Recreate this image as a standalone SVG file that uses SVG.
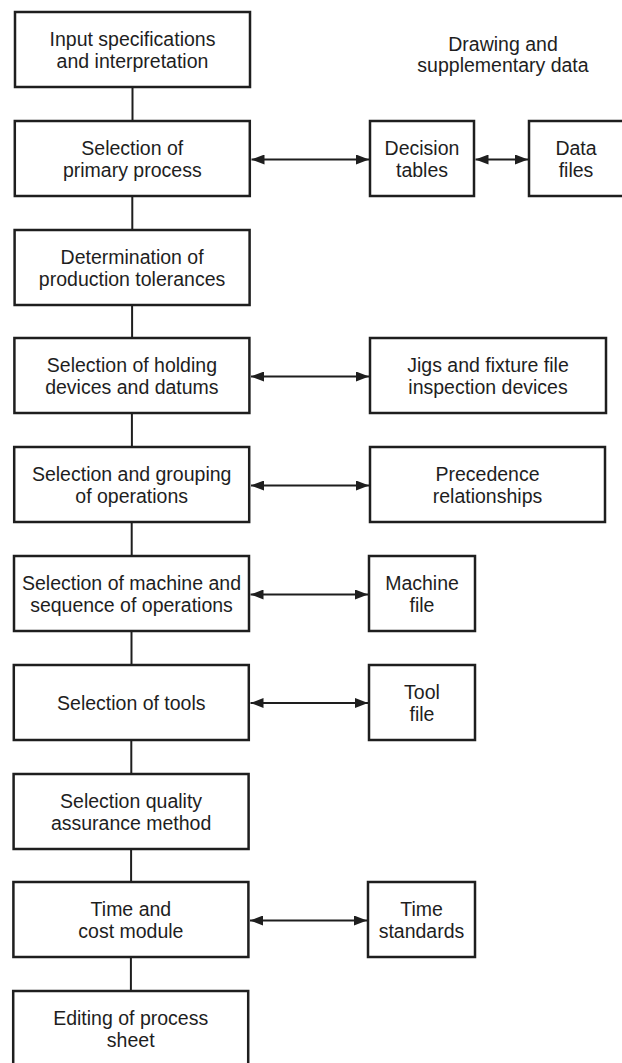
<svg xmlns="http://www.w3.org/2000/svg" width="622" height="1063" viewBox="0 0 622 1063">
<style>
.box{fill:#fff;stroke:#1e1e1e;stroke-width:2.5}
.t{font-family:"Liberation Sans",Arial,sans-serif;font-size:19.5px;fill:#1e1e1e;text-anchor:middle}
.ln{stroke:#1e1e1e;stroke-width:2;fill:none}
</style>
<defs>
<marker id="ah" viewBox="0 0 13 10" refX="13" refY="5" markerWidth="13" markerHeight="10" markerUnits="userSpaceOnUse" orient="auto-start-reverse">
<path d="M0,0 L13,5 L0,10 Z" fill="#1e1e1e"/>
</marker>
</defs>
<rect width="622" height="1063" fill="#fff"/>
<g id="connectors">
<line class="ln" x1="132.5" y1="87" x2="132.5" y2="121"/>
<line class="ln" x1="132.3" y1="196" x2="132.3" y2="230"/>
<line class="ln" x1="132.1" y1="305" x2="132.1" y2="338"/>
<line class="ln" x1="131.9" y1="413" x2="131.9" y2="447"/>
<line class="ln" x1="131.7" y1="522" x2="131.7" y2="556"/>
<line class="ln" x1="131.5" y1="631" x2="131.5" y2="665"/>
<line class="ln" x1="131.3" y1="740" x2="131.3" y2="774"/>
<line class="ln" x1="131.1" y1="849" x2="131.1" y2="882"/>
<line class="ln" x1="130.9" y1="957" x2="130.9" y2="991"/>
<line class="ln" x1="251.5" y1="159.5" x2="369" y2="159.5" marker-start="url(#ah)" marker-end="url(#ah)"/>
<line class="ln" x1="475.5" y1="159.5" x2="528" y2="159.5" marker-start="url(#ah)" marker-end="url(#ah)"/>
<line class="ln" x1="251" y1="376.5" x2="369" y2="376.5" marker-start="url(#ah)" marker-end="url(#ah)"/>
<line class="ln" x1="251" y1="485.5" x2="369" y2="485.5" marker-start="url(#ah)" marker-end="url(#ah)"/>
<line class="ln" x1="250.5" y1="594.5" x2="368" y2="594.5" marker-start="url(#ah)" marker-end="url(#ah)"/>
<line class="ln" x1="250.5" y1="703" x2="368" y2="703" marker-start="url(#ah)" marker-end="url(#ah)"/>
<line class="ln" x1="250" y1="920.5" x2="367" y2="920.5" marker-start="url(#ah)" marker-end="url(#ah)"/>
</g>
<g id="header">
<text class="t" x="503" y="51">Drawing and</text>
<text class="t" x="503" y="72">supplementary data</text>
</g>
<g id="n1"><rect class="box" x="15" y="12" width="235" height="75"/>
<text class="t" x="132.5" y="46">Input specifications</text><text class="t" x="132.5" y="68">and interpretation</text></g>
<g id="n2"><rect class="box" x="14.8" y="121" width="235" height="75"/>
<text class="t" x="132.3" y="155">Selection of</text><text class="t" x="132.3" y="177">primary process</text></g>
<g id="n3"><rect class="box" x="14.6" y="230" width="235" height="75"/>
<text class="t" x="132.1" y="264">Determination of</text><text class="t" x="132.1" y="286">production tolerances</text></g>
<g id="n4"><rect class="box" x="14.4" y="338" width="235" height="75"/>
<text class="t" x="131.9" y="372">Selection of holding</text><text class="t" x="131.9" y="394">devices and datums</text></g>
<g id="n5"><rect class="box" x="14.2" y="447" width="235" height="75"/>
<text class="t" x="131.7" y="481">Selection and grouping</text><text class="t" x="131.7" y="503">of operations</text></g>
<g id="n6"><rect class="box" x="14" y="556" width="235" height="75"/>
<text class="t" x="131.5" y="590">Selection of machine and</text><text class="t" x="131.5" y="612">sequence of operations</text></g>
<g id="n7"><rect class="box" x="13.8" y="665" width="235" height="75"/>
<text class="t" x="131.3" y="709.5">Selection of tools</text></g>
<g id="n8"><rect class="box" x="13.6" y="774" width="235" height="75"/>
<text class="t" x="131.1" y="808">Selection quality</text><text class="t" x="131.1" y="830">assurance method</text></g>
<g id="n9"><rect class="box" x="13.4" y="882" width="235" height="75"/>
<text class="t" x="130.9" y="916">Time and</text><text class="t" x="130.9" y="938">cost module</text></g>
<g id="n10"><rect class="box" x="13.2" y="991" width="235" height="80"/>
<text class="t" x="130.7" y="1025">Editing of process</text><text class="t" x="130.7" y="1047">sheet</text></g>
<g id="decision"><rect class="box" x="370" y="121" width="104" height="75"/>
<text class="t" x="422" y="155">Decision</text><text class="t" x="422" y="177">tables</text></g>
<g id="datafiles"><rect class="box" x="529" y="121" width="100" height="75"/>
<text class="t" x="576" y="155">Data</text><text class="t" x="576" y="177">files</text></g>
<g id="jigs"><rect class="box" x="370" y="338" width="236" height="75"/>
<text class="t" x="488" y="372">Jigs and fixture file</text><text class="t" x="488" y="394">inspection devices</text></g>
<g id="precedence"><rect class="box" x="370" y="447" width="235" height="75"/>
<text class="t" x="487.5" y="481">Precedence</text><text class="t" x="487.5" y="503">relationships</text></g>
<g id="machine"><rect class="box" x="369" y="556" width="106" height="75"/>
<text class="t" x="422" y="590">Machine</text><text class="t" x="422" y="612">file</text></g>
<g id="tool"><rect class="box" x="369" y="665" width="106" height="75"/>
<text class="t" x="422" y="699">Tool</text><text class="t" x="422" y="721">file</text></g>
<g id="time"><rect class="box" x="368" y="882" width="107" height="75"/>
<text class="t" x="421.5" y="916">Time</text><text class="t" x="421.5" y="938">standards</text></g>
</svg>
